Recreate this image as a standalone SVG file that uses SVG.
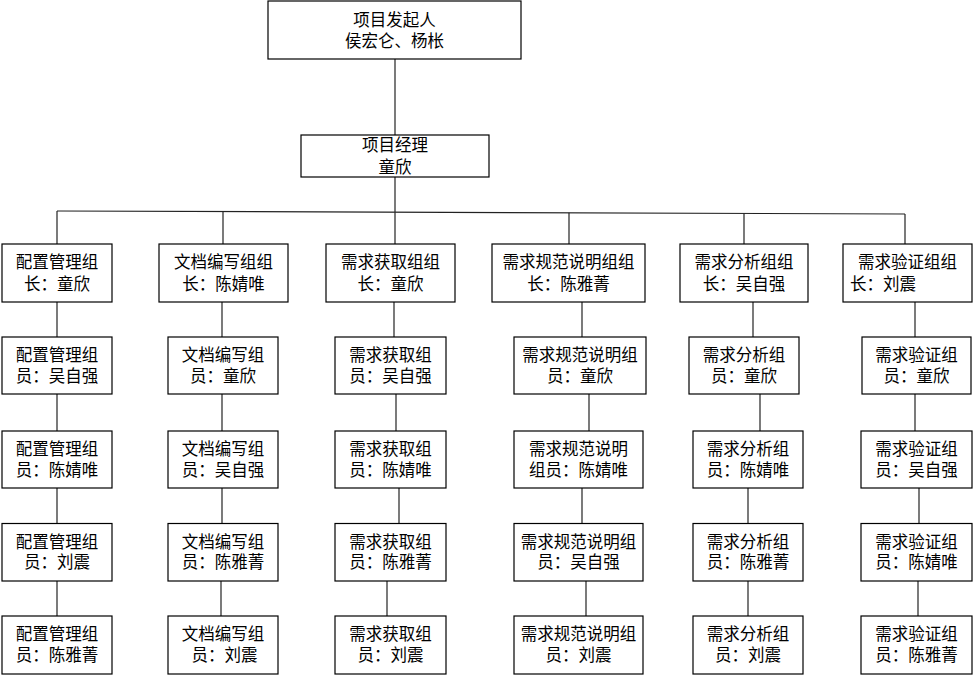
<svg xmlns="http://www.w3.org/2000/svg" width="973" height="675" viewBox="0 0 973 675">
<style>
rect{fill:#fff;stroke:#000;stroke-width:1.2}
text{font-family:"Noto Sans CJK SC","Liberation Sans",sans-serif;font-size:16.5px;fill:#000;text-anchor:middle}
.l{text-anchor:start}
#connectors line{stroke:#222;stroke-width:1.2}
</style>
<rect x="0" y="0" width="973" height="675" style="stroke:none;fill:#fff"/>
<g id="connectors">
<line x1="395" y1="59" x2="395" y2="135"/>
<line x1="395" y1="177" x2="395" y2="212"/>
<line x1="57" y1="211" x2="905" y2="214"/>
<line x1="57" y1="211" x2="57" y2="244"/>
<line x1="223" y1="211.6" x2="223" y2="244"/>
<line x1="395" y1="212.2" x2="395" y2="244"/>
<line x1="569" y1="212.8" x2="569" y2="244"/>
<line x1="744" y1="213.4" x2="744" y2="244"/>
<line x1="905" y1="214" x2="905" y2="244"/>
<line x1="57" y1="302" x2="57" y2="337"/>
<line x1="222" y1="302" x2="222" y2="337"/>
<line x1="394" y1="302" x2="394" y2="337"/>
<line x1="582" y1="302" x2="582" y2="337"/>
<line x1="753" y1="302" x2="753" y2="337"/>
<line x1="915" y1="302" x2="915" y2="337"/>
<line x1="57" y1="394" x2="57" y2="431"/>
<line x1="222" y1="394" x2="222" y2="431"/>
<line x1="396" y1="394" x2="396" y2="431"/>
<line x1="589" y1="394" x2="589" y2="431"/>
<line x1="760" y1="394" x2="760" y2="431"/>
<line x1="915" y1="394" x2="915" y2="431"/>
<line x1="57" y1="488" x2="57" y2="523.5"/>
<line x1="222" y1="488" x2="222" y2="523.5"/>
<line x1="399" y1="488" x2="399" y2="523.5"/>
<line x1="582" y1="488" x2="582" y2="523.5"/>
<line x1="748" y1="488" x2="748" y2="523.5"/>
<line x1="919" y1="488" x2="919" y2="523.5"/>
<line x1="57" y1="581" x2="57" y2="616"/>
<line x1="221" y1="581" x2="221" y2="616"/>
<line x1="387" y1="581" x2="387" y2="616"/>
<line x1="586" y1="581" x2="586" y2="616"/>
<line x1="748" y1="581" x2="748" y2="616"/>
<line x1="918" y1="581" x2="918" y2="616"/>
</g>
<g id="sponsor"><rect x="268" y="1" width="253" height="58"/><text x="394.5" y="26">项目发起人</text><text x="394.5" y="47">侯宏仑、杨枨</text></g>
<g id="pm"><rect x="301" y="135" width="188" height="42"/><text x="395" y="150.5">项目经理</text><text x="395" y="172.5">童欣</text></g>
<g id="lead1"><rect x="2" y="244" width="110" height="58"/><text x="57" y="268">配置管理组</text><text x="57" y="289.5">长：童欣</text></g>
<g id="lead2"><rect x="159" y="244" width="129" height="58"/><text x="223.5" y="268">文档编写组组</text><text x="223.5" y="289.5">长：陈婧唯</text></g>
<g id="lead3"><rect x="326" y="244" width="129" height="58"/><text x="390.5" y="268">需求获取组组</text><text x="390.5" y="289.5">长：童欣</text></g>
<g id="lead4"><rect x="492" y="244" width="153" height="58"/><text x="568.5" y="268">需求规范说明组组</text><text x="568.5" y="289.5">长：陈雅菁</text></g>
<g id="lead5"><rect x="680" y="244" width="128" height="58"/><text x="744" y="268">需求分析组组</text><text x="744" y="289.5">长：吴自强</text></g>
<g id="lead6"><rect x="843" y="244" width="129" height="58"/><text x="907.5" y="268">需求验证组组</text><text class="l" x="850" y="289.5">长：刘震</text></g>
<g id="m1-1"><rect x="2" y="337" width="110" height="57"/><text x="57" y="361">配置管理组</text><text x="57" y="381.5">员：吴自强</text></g>
<g id="m2-1"><rect x="168" y="337" width="110" height="57"/><text x="223" y="361">文档编写组</text><text x="223" y="381.5">员：童欣</text></g>
<g id="m3-1"><rect x="335" y="337" width="111" height="57"/><text x="390.5" y="361">需求获取组</text><text x="390.5" y="381.5">员：吴自强</text></g>
<g id="m4-1"><rect x="514" y="337" width="132" height="57"/><text x="580" y="361">需求规范说明组</text><text x="580" y="381.5">员：童欣</text></g>
<g id="m5-1"><rect x="689" y="337" width="110" height="57"/><text x="744" y="361">需求分析组</text><text x="744" y="381.5">员：童欣</text></g>
<g id="m6-1"><rect x="862" y="337" width="109" height="57"/><text x="916.5" y="361">需求验证组</text><text x="916.5" y="381.5">员：童欣</text></g>
<g id="m1-2"><rect x="2" y="431" width="110" height="57"/><text x="57" y="455">配置管理组</text><text x="57" y="475.5">员：陈婧唯</text></g>
<g id="m2-2"><rect x="168" y="431" width="110" height="57"/><text x="223" y="455">文档编写组</text><text x="223" y="475.5">员：吴自强</text></g>
<g id="m3-2"><rect x="335" y="431" width="111" height="57"/><text x="390.5" y="455">需求获取组</text><text x="390.5" y="475.5">员：陈婧唯</text></g>
<g id="m4-2"><rect x="514" y="431" width="129" height="57"/><text x="578.5" y="455">需求规范说明</text><text x="578.5" y="475.5">组员：陈婧唯</text></g>
<g id="m5-2"><rect x="693" y="431" width="110" height="57"/><text x="748" y="455">需求分析组</text><text x="748" y="475.5">员：陈婧唯</text></g>
<g id="m6-2"><rect x="861" y="431" width="111" height="57"/><text x="916.5" y="455">需求验证组</text><text x="916.5" y="475.5">员：吴自强</text></g>
<g id="m1-3"><rect x="2" y="523.5" width="110" height="57.5"/><text x="57" y="547.5">配置管理组</text><text x="57" y="568">员：刘震</text></g>
<g id="m2-3"><rect x="168" y="523.5" width="110" height="57.5"/><text x="223" y="547.5">文档编写组</text><text x="223" y="568">员：陈雅菁</text></g>
<g id="m3-3"><rect x="335" y="523.5" width="111" height="57.5"/><text x="390.5" y="547.5">需求获取组</text><text x="390.5" y="568">员：陈雅菁</text></g>
<g id="m4-3"><rect x="514" y="523.5" width="129" height="57.5"/><text x="578.5" y="547.5">需求规范说明组</text><text x="578.5" y="568">员：吴自强</text></g>
<g id="m5-3"><rect x="693" y="523.5" width="110" height="57.5"/><text x="748" y="547.5">需求分析组</text><text x="748" y="568">员：陈雅菁</text></g>
<g id="m6-3"><rect x="861" y="523.5" width="111" height="57.5"/><text x="916.5" y="547.5">需求验证组</text><text x="916.5" y="568">员：陈婧唯</text></g>
<g id="m1-4"><rect x="2" y="616" width="110" height="58"/><text x="57" y="640">配置管理组</text><text x="57" y="660.5">员：陈雅菁</text></g>
<g id="m2-4"><rect x="168" y="616" width="110" height="58"/><text x="223" y="640">文档编写组</text><text x="224.5" y="660.5">员：刘震</text></g>
<g id="m3-4"><rect x="335" y="616" width="111" height="58"/><text x="390.5" y="640">需求获取组</text><text x="390.5" y="660.5">员：刘震</text></g>
<g id="m4-4"><rect x="514" y="616" width="129" height="58"/><text x="578.5" y="640">需求规范说明组</text><text x="578.5" y="660.5">员：刘震</text></g>
<g id="m5-4"><rect x="693" y="616" width="110" height="58"/><text x="748" y="640">需求分析组</text><text x="748" y="660.5">员：刘震</text></g>
<g id="m6-4"><rect x="861" y="616" width="111" height="58"/><text x="916.5" y="640">需求验证组</text><text x="916.5" y="660.5">员：陈雅菁</text></g>
</svg>
